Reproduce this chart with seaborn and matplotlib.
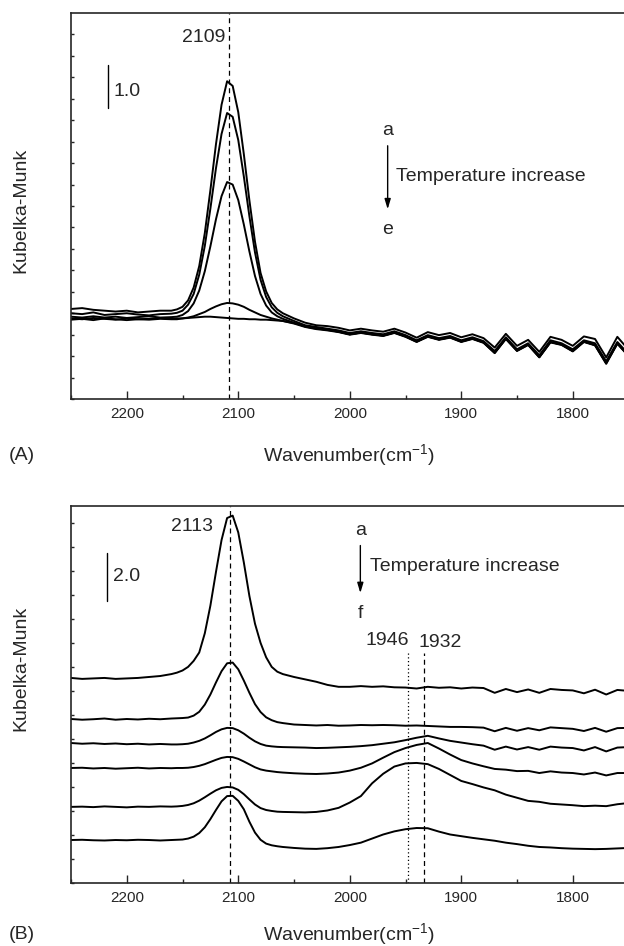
import numpy as np
import pandas as pd
import seaborn as sns
import matplotlib.pyplot as plt

sns.set_style("ticks")
plt.rcParams["font.family"] = ["Liberation Sans", "DejaVu Sans"]
plt.rcParams["mathtext.fontset"] = "custom"
plt.rcParams["mathtext.rm"] = "Liberation Sans"
plt.rcParams["mathtext.it"] = "Liberation Sans"

# wavenumber (cm-1) where values were read: every 10, and every 5 across the CO band
wn = [2250, 2240, 2230, 2220, 2210, 2200, 2190, 2180, 2170, 2160,
      2155, 2150, 2145, 2140, 2135, 2130, 2125, 2120, 2115, 2110,
      2105, 2100, 2095, 2090, 2085, 2080, 2075, 2070, 2065, 2060,
      2050, 2040, 2030, 2020, 2010, 2000, 1990, 1980, 1970, 1960,
      1950, 1940, 1930, 1920, 1910, 1900, 1890, 1880, 1870, 1860,
      1850, 1840, 1830, 1820, 1810, 1800, 1790, 1780, 1770, 1760, 1750]

# panel A, Kubelka-Munk (offset as plotted), spectra a..e
A_a = [2.10, 2.12, 2.08, 2.06, 2.04, 2.06, 2.02, 2.04, 2.06, 2.06,
       2.09, 2.15, 2.30, 2.60, 3.10, 3.87, 4.87, 5.94, 6.86, 7.41,
       7.30, 6.69, 5.71, 4.63, 3.67, 2.94, 2.51, 2.24, 2.09, 2.00,
       1.88, 1.78, 1.72, 1.70, 1.66, 1.60, 1.64, 1.60, 1.57, 1.64,
       1.55, 1.43, 1.56, 1.49, 1.54, 1.44, 1.51, 1.42, 1.20, 1.52,
       1.24, 1.38, 1.10, 1.45, 1.38, 1.24, 1.46, 1.40, 0.97, 1.45, 1.15]
A_b = [2.00, 1.98, 2.02, 1.96, 1.98, 2.00, 1.97, 1.95, 1.98, 1.99,
       2.01, 2.06, 2.20, 2.45, 2.90, 3.57, 4.44, 5.38, 6.18, 6.67,
       6.58, 6.04, 5.19, 4.26, 3.42, 2.78, 2.38, 2.14, 2.01, 1.93,
       1.82, 1.72, 1.68, 1.64, 1.60, 1.54, 1.58, 1.54, 1.51, 1.58,
       1.49, 1.37, 1.49, 1.42, 1.47, 1.37, 1.44, 1.35, 1.12, 1.44,
       1.16, 1.30, 1.02, 1.37, 1.30, 1.16, 1.37, 1.30, 0.88, 1.33, 1.05]
A_c = [1.92, 1.90, 1.93, 1.90, 1.92, 1.89, 1.91, 1.93, 1.90, 1.91,
       1.92, 1.96, 2.05, 2.23, 2.53, 2.98, 3.56, 4.19, 4.73, 5.06,
       5.00, 4.64, 4.07, 3.44, 2.87, 2.45, 2.18, 2.02, 1.93, 1.87,
       1.78, 1.69, 1.64, 1.62, 1.57, 1.51, 1.55, 1.51, 1.48, 1.55,
       1.46, 1.34, 1.46, 1.39, 1.44, 1.34, 1.41, 1.32, 1.08, 1.41,
       1.13, 1.27, 0.98, 1.33, 1.27, 1.12, 1.34, 1.26, 0.84, 1.30, 1.01]
A_d = [1.85, 1.87, 1.84, 1.88, 1.86, 1.84, 1.86, 1.85, 1.87, 1.86,
       1.86, 1.88, 1.90, 1.93, 1.98, 2.03, 2.10, 2.16, 2.21, 2.24,
       2.23, 2.20, 2.15, 2.08, 2.02, 1.96, 1.92, 1.88, 1.85, 1.82,
       1.76, 1.68, 1.63, 1.60, 1.56, 1.50, 1.54, 1.50, 1.47, 1.54,
       1.45, 1.33, 1.45, 1.38, 1.43, 1.33, 1.40, 1.31, 1.07, 1.40,
       1.12, 1.26, 0.97, 1.32, 1.26, 1.11, 1.33, 1.25, 0.82, 1.29, 1.00]
A_e = [1.88, 1.86, 1.89, 1.87, 1.85, 1.88, 1.86, 1.87, 1.89, 1.87,
       1.88, 1.88, 1.89, 1.90, 1.91, 1.92, 1.92, 1.91, 1.90, 1.89,
       1.88, 1.87, 1.87, 1.86, 1.86, 1.85, 1.85, 1.84, 1.83, 1.82,
       1.77, 1.70, 1.65, 1.61, 1.57, 1.51, 1.55, 1.51, 1.48, 1.55,
       1.46, 1.34, 1.46, 1.39, 1.44, 1.34, 1.41, 1.32, 1.08, 1.41,
       1.13, 1.27, 0.98, 1.33, 1.27, 1.12, 1.34, 1.26, 0.84, 1.30, 1.01]

# panel B, spectra a..f
B_a = [8.54, 8.50, 8.52, 8.54, 8.50, 8.52, 8.54, 8.58, 8.62, 8.70,
       8.76, 8.85, 9.00, 9.25, 9.60, 10.40, 11.55, 12.95, 14.28, 15.20,
       15.30, 14.60, 13.35, 11.95, 10.80, 10.00, 9.40, 9.00, 8.80, 8.70,
       8.58, 8.48, 8.38, 8.25, 8.17, 8.17, 8.20, 8.17, 8.19, 8.15,
       8.14, 8.10, 8.17, 8.13, 8.15, 8.10, 8.14, 8.12, 7.92, 8.08,
       7.95, 8.06, 7.92, 8.08, 8.04, 8.02, 7.90, 8.05, 7.85, 8.04, 8.00]
B_b = [6.83, 6.80, 6.82, 6.85, 6.80, 6.83, 6.81, 6.84, 6.82, 6.85,
       6.86, 6.87, 6.89, 6.97, 7.13, 7.43, 7.85, 8.35, 8.82, 9.15,
       9.18, 8.90, 8.43, 7.92, 7.45, 7.12, 6.90, 6.78, 6.70, 6.66,
       6.60, 6.58, 6.56, 6.58, 6.55, 6.56, 6.58, 6.57, 6.58, 6.57,
       6.55, 6.56, 6.54, 6.52, 6.50, 6.50, 6.49, 6.47, 6.32, 6.46,
       6.34, 6.45, 6.36, 6.48, 6.45, 6.42, 6.33, 6.46, 6.30, 6.45, 6.46]
B_c = [5.83, 5.80, 5.82, 5.79, 5.81, 5.78, 5.80, 5.77, 5.79, 5.77,
       5.77, 5.78, 5.80, 5.85, 5.92, 6.02, 6.15, 6.29, 6.40, 6.46,
       6.45, 6.36, 6.22, 6.05, 5.90, 5.79, 5.72, 5.69, 5.67, 5.66,
       5.65, 5.64, 5.62, 5.63, 5.65, 5.67, 5.70, 5.74, 5.80, 5.86,
       5.95, 6.05, 6.13, 6.02, 5.92, 5.85, 5.78, 5.72, 5.55, 5.68,
       5.56, 5.66, 5.55, 5.68, 5.64, 5.62, 5.52, 5.66, 5.48, 5.64, 5.66]
B_d = [4.79, 4.80, 4.77, 4.79, 4.76, 4.78, 4.80, 4.77, 4.79, 4.78,
       4.79, 4.79, 4.80, 4.83, 4.88, 4.95, 5.04, 5.13, 5.21, 5.25,
       5.24, 5.17, 5.06, 4.94, 4.82, 4.73, 4.68, 4.65, 4.62, 4.60,
       4.57, 4.55, 4.54, 4.56, 4.60, 4.68, 4.80, 4.98, 5.22, 5.45,
       5.62, 5.75, 5.83, 5.60, 5.35, 5.12, 4.98, 4.86, 4.75, 4.72,
       4.66, 4.67, 4.58, 4.65, 4.60, 4.58, 4.52, 4.60, 4.48, 4.58, 4.58]
B_e = [3.17, 3.18, 3.16, 3.19, 3.17, 3.15, 3.18, 3.17, 3.19, 3.18,
       3.19, 3.21, 3.25, 3.32, 3.43, 3.57, 3.72, 3.86, 3.96, 4.00,
       3.98, 3.88, 3.70, 3.48, 3.27, 3.12, 3.04, 3.00, 2.97, 2.96,
       2.95, 2.94, 2.96, 3.02, 3.13, 3.35, 3.62, 4.15, 4.55, 4.85,
       4.98, 5.00, 4.95, 4.75, 4.50, 4.25, 4.12, 3.98, 3.86, 3.68,
       3.55, 3.42, 3.38, 3.30, 3.27, 3.24, 3.20, 3.22, 3.20, 3.28, 3.33]
B_f = [1.79, 1.80, 1.78, 1.77, 1.79, 1.78, 1.80, 1.79, 1.77, 1.79,
       1.80, 1.81, 1.85, 1.93, 2.08, 2.32, 2.66, 3.04, 3.40, 3.62,
       3.63, 3.42, 3.07, 2.55, 2.10, 1.80, 1.64, 1.57, 1.53, 1.50,
       1.46, 1.43, 1.42, 1.45, 1.50, 1.58, 1.68, 1.85, 2.02, 2.15,
       2.24, 2.29, 2.28, 2.14, 2.02, 1.95, 1.88, 1.82, 1.76, 1.68,
       1.62, 1.55, 1.50, 1.48, 1.45, 1.43, 1.42, 1.41, 1.42, 1.44, 1.46]

curves_A = {"a": A_a, "b": A_b, "c": A_c, "d": A_d, "e": A_e}
curves_B = {"a": B_a, "b": B_b, "c": B_c, "d": B_d, "e": B_e, "f": B_f}

xticks = [2200, 2100, 2000, 1900, 1800]

fig = plt.figure(figsize=(6.24, 9.46), dpi=100)
axA = fig.add_axes([0.1138, 0.5782, 0.8934, 0.4080])
axB = fig.add_axes([0.1138, 0.0666, 0.8934, 0.3985])


def style_axis(ax, ymax, ystep):
    ax.set_xlim(2250, 1750)
    ax.set_ylim(0, ymax)
    ax.set_xticks(xticks)
    ax.set_xticks(np.arange(2250, 1749, -50), minor=True)
    ax.set_yticks(np.arange(0, ymax, ystep))
    ax.set_yticklabels([])
    ax.tick_params(axis="x", which="major", direction="in", length=5.5, width=1.0, labelsize=11, pad=6)
    ax.tick_params(axis="x", which="minor", direction="in", length=3, width=1.0)
    ax.tick_params(axis="y", which="major", direction="in", length=2, width=1.0)
    for s in ax.spines.values():
        s.set_linewidth(1.2)
    ax.set_ylabel("Kubelka-Munk", fontsize=14)
    ax.set_xlabel("")


for name, vals in curves_A.items():
    df = pd.DataFrame({"wn": wn, "km": vals})
    sns.lineplot(data=df, x="wn", y="km", ax=axA, color="black", linewidth=1.4, sort=False)
for name, vals in curves_B.items():
    df = pd.DataFrame({"wn": wn, "km": vals})
    sns.lineplot(data=df, x="wn", y="km", ax=axB, color="black", linewidth=1.4, sort=False)

style_axis(axA, 9.0, 0.5)
style_axis(axB, 15.7, 1.0)
axA.yaxis.set_label_coords(-0.075, 0.49)
axB.yaxis.set_label_coords(-0.075, 0.57)

fs = 14
arrow = dict(arrowstyle="-|>,head_width=0.18,head_length=0.6", color="black", lw=1.0)

# panel A annotations
axA.axvline(2108, color="black", linestyle=(0, (4, 3)), linewidth=0.9)
axA.text(2112, 8.44, "2109", fontsize=fs, ha="right", va="center")
axA.plot([2217, 2217], [6.78, 7.78], color="black", linewidth=1.0)
axA.text(2212, 7.18, "1.0", fontsize=fs, ha="left", va="center")
axA.text(1966, 6.27, "a", fontsize=fs, ha="center", va="center")
axA.annotate("", xy=(1966, 4.36), xytext=(1966, 5.97), arrowprops=arrow)
axA.text(1958.5, 5.20, "Temperature increase", fontsize=fs, ha="left", va="center")
axA.text(1966, 3.96, "e", fontsize=fs, ha="center", va="center")

# panel B annotations
axB.axvline(2107, color="black", linestyle=(0, (4, 3)), linewidth=0.9)
axB.plot([1948, 1948], [0, 9.63], color="black", linestyle=(0, (1, 2)), linewidth=0.9)
axB.plot([1933, 1933], [0, 9.58], color="black", linestyle=(0, (4, 3)), linewidth=0.9)
axB.text(2122.5, 14.83, "2113", fontsize=fs, ha="right", va="center")
axB.plot([2218, 2218], [11.73, 13.73], color="black", linewidth=1.0)
axB.text(2212, 12.75, "2.0", fontsize=fs, ha="left", va="center")
axB.text(1990, 14.67, "a", fontsize=fs, ha="center", va="center")
axB.annotate("", xy=(1990.5, 11.96), xytext=(1990.5, 14.17), arrowprops=arrow)
axB.text(1982, 13.17, "Temperature increase", fontsize=fs, ha="left", va="center")
axB.text(1990, 11.21, "f", fontsize=fs, ha="center", va="center")
axB.text(1966.6, 10.08, "1946", fontsize=fs, ha="center", va="center")
axB.text(1919, 10.0, "1932", fontsize=fs, ha="center", va="center")

# x labels and panel letters
fig.text(349 / 624, 1 - 455 / 946, "Wavenumber(cm$^{-1}$)", fontsize=14, ha="center", va="center")
fig.text(349 / 624, 1 - 934 / 946, "Wavenumber(cm$^{-1}$)", fontsize=14, ha="center", va="center")
fig.text(22 / 624, 1 - 455 / 946, "(A)", fontsize=14, ha="center", va="center")
fig.text(22 / 624, 1 - 934 / 946, "(B)", fontsize=14, ha="center", va="center")

fig.savefig("out.png", dpi=100, facecolor="white")
